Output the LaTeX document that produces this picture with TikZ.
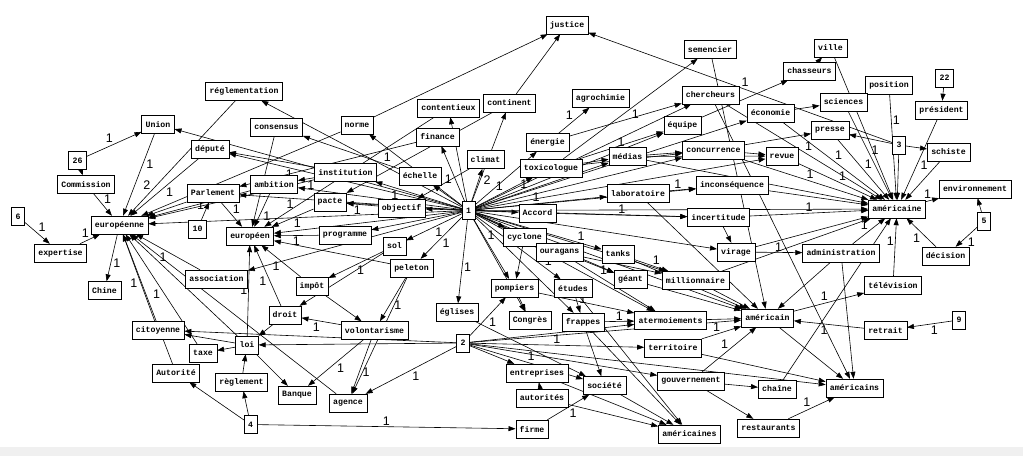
\documentclass[tikz,border=0pt]{standalone}
\usepackage{fontspec}
\setmonofont{Liberation Mono}
\newfontfamily\numfont{Liberation Sans}
\usetikzlibrary{arrows.meta,backgrounds}

\begin{document}
\begin{tikzpicture}[x=1pt,y=-1pt,
		every node/.style={draw,fill=white,font=\ttfamily\bfseries\fontsize{8.2}{9}\selectfont,
			inner xsep=4pt,inner ysep=0pt,minimum height=18pt},
		link/.style={-{Triangle[length=7pt,width=5pt]},line width=0.6pt},
		lbl/.style={draw=none,fill=none,font=\numfont\fontsize{12.5}{13}\selectfont,
			inner sep=1pt,minimum height=0pt,auto}]

		\useasboundingbox (0,0) rectangle (1023,456);

		% terms, top to bottom
		\node (justice) at (567,25) {justice};
		\node (semencier) at (710,49.5) {semencier};
		\node (ville) at (830.5,48) {ville};
		\node (chasseurs) at (809.5,71) {chasseurs};
		\node (position) at (889,85) {position};
		\node (n22) at (944.5,78) {22};
		\node (president) at (941.5,110) {président};
		\node (sciences) at (843.5,102) {sciences};
		\node (reglementation) at (244,91.5) {réglementation};
		\node (agrochimie) at (600.5,98.5) {agrochimie};
		\node (chercheurs) at (710.5,95) {chercheurs};
		\node (economie) at (770.5,113) {économie};
		\node (presse) at (830,130.5) {presse};
		\node (n3) at (899,145) {3};
		\node (schiste) at (948.5,152) {schiste};
		\node (union) at (158,124.5) {Union};
		\node (contentieux) at (448.5,108) {contentieux};
		\node (continent) at (509.5,103) {continent};
		\node (norme) at (357,125) {norme};
		\node (consensus) at (276.5,127) {consensus};
		\node (finance) at (437.5,137) {finance};
		\node (energie) at (547.5,142.5) {énergie};
		\node (equipe) at (682.5,125.5) {équipe};
		\node (depute) at (210,149) {député};
		\node (climat) at (485.5,159.5) {climat};
		\node (medias) at (627.5,156.5) {médias};
		\node (concurrence) at (713.5,150) {concurrence};
		\node (revue) at (782,156) {revue};
		\node (institution) at (345.5,172.5) {institution};
		\node (toxicologue) at (551,168) {toxicologue};
		\node (n26) at (77.5,160.5) {26};
		\node (commission) at (86,184.5) {Commission};
		\node (ambition) at (274,184.5) {ambition};
		\node (echelle) at (420,176) {échelle};
		\node (parlement) at (213,193) {Parlement};
		\node (inconsequence) at (732,185.5) {inconséquence};
		\node (laboratoire) at (638,193.5) {laboratoire};
		\node (environnement) at (975,189) {environnement};
		\node (pacte) at (330,202) {pacte};
		\node (objectif) at (401.5,208) {objectif};
		\node (n1) at (468.5,210.5) {1};
		\node (accord) at (537.5,213) {Accord};
		\node (incertitude) at (718.5,217.5) {incertitude};
		\node (americaine) at (897,209) {américaine};
		\node (n6) at (18,216.5) {6};
		\node (europeenne) at (119.5,225) {européenne};
		\node (n10) at (197.5,229) {10};
		\node (europeen) at (250,236) {européen};
		\node (programme) at (345,235) {programme};
		\node (n5) at (984,221) {5};
		\node (cyclone) at (524.5,237) {cyclone};
		\node (sol) at (394.5,246) {sol};
		\node (ouragans) at (559.5,252) {ouragans};
		\node (tanks) at (618,254) {tanks};
		\node (virage) at (736,252) {virage};
		\node (decision) at (945.5,256) {décision};
		\node (administration) at (841,253) {administration};
		\node (expertise) at (60.5,253) {expertise};
		\node (peleton) at (411.5,268) {peleton};
		\node (geant) at (630.5,279.5) {géant};
		\node (millionnaire) at (695.5,280.5) {millionnaire};
		\node (association) at (216.5,279) {association};
		\node (impot) at (312,286) {impôt};
		\node (pompiers) at (514.5,288) {pompiers};
		\node (etudes) at (573,288.5) {études};
		\node (television) at (893,285.5) {télévision};
		\node (chine) at (104.5,290.5) {Chine};
		\node (droit) at (285,315) {droit};
		\node (eglises) at (457,312.5) {églises};
		\node (congres) at (530,320.5) {Congrès};
		\node (frappes) at (583,322) {frappes};
		\node (atermoiements) at (670.5,320.5) {atermoiements};
		\node (americain) at (767.5,318) {américain};
		\node (volontarisme) at (374.5,330.5) {volontarisme};
		\node (citoyenne) at (158,330) {citoyenne};
		\node (retrait) at (885.5,330.5) {retrait};
		\node (n9) at (959,320) {9};
		\node (n2) at (463,343) {2};
		\node (loi) at (247,345) {loi};
		\node (territoire) at (673,348) {territoire};
		\node (taxe) at (203,353) {taxe};
		\node (autorite) at (176,373) {Autorité};
		\node (reglement) at (241.5,382) {règlement};
		\node (entreprises) at (537,373) {entreprises};
		\node (gouvernement) at (691,381) {gouvernement};
		\node (chaine) at (777,389) {chaîne};
		\node (americains) at (854.5,388) {américains};
		\node (societe) at (604.5,385.5) {société};
		\node (banque) at (297,395) {Banque};
		\node (autorites) at (542,398) {autorités};
		\node (agence) at (348,403) {agence};
		\node (n4) at (250.5,424.5) {4};
		\node (firme) at (532,429) {firme};
		\node (restaurants) at (768.5,428) {restaurants};
		\node (americaines) at (689.5,434) {américaines};

		\begin{pgfonlayer}{background}
			\fill[black!6] (0,447) rectangle (1023,456);

			% weighted links
			\foreach \a/\b in {n26/union, commission/europeenne, n6/expertise,
				expertise/europeenne, europeenne/chine, parlement/europeen, n10/parlement,
				depute/europeenne, association/europeenne, taxe/europeenne, citoyenne/europeenne,
				loi/europeen, droit/europeen, volontarisme/droit, volontarisme/banque,
				peleton/volontarisme, impot/europeen, sol/impot, programme/europeen, pacte/europeen,
				ambition/europeen, institution/ambition, objectif/pacte, n1/finance,
				n1/sol, n1/peleton, n1/eglises, n1/toxicologue, n1/laboratoire,
				energie/agrochimie, concurrence/americaine, revue/americaine,
				laboratoire/inconsequence, accord/incertitude, incertitude/americaine,
				virage/administration, administration/americaine, americain/television,
				television/americaine, sciences/americaine, president/americaine, n4/firme,
				n2/agence, n2/territoire, volontarisme/agence, retrait/americain, n9/retrait,
				restaurants/americains, frappes/atermoiements, tanks/millionnaire, etudes/frappes,
				gouvernement/americain, territoire/americain, economie/americaine,
				presse/americaine, chercheurs/americaine, n5/decision, decision/americaine,
				americaine/environnement, n2/societe}
				\draw[link] (\a) -- node[lbl]{1} (\b);
			\foreach \a/\b/\p in {position/americaine/0.3, n1/norme/0.75, n1/equipe/0.8,
				n1/institution/0.72, n1/depute/0.72, n1/parlement/0.75, n1/medias/0.4,
				n1/tanks/0.8, n1/pompiers/0.35, n1/etudes/0.8, ouragans/atermoiements/0.3,
				union/europeenne/0.3}
				\draw[link] (\a) -- node[lbl,pos=\p]{1} (\b);
			\foreach \a/\b in {n2/pompiers, n3/justice, toxicologue/semencier, firme/societe}
				\draw[link] (\a) -- node[lbl,swap]{1} (\b);

			% plain links
			\foreach \a/\b in {n26/commission, parlement/europeenne, ambition/europeenne,
				institution/europeenne, contentieux/europeen, finance/parlement, norme/europeenne,
				continent/pacte, climat/objectif, norme/justice, continent/justice,
				institution/depute, echelle/consensus, consensus/europeen, peleton/europeen,
				loi/banque, autorite/europeenne, droit/loi, reglement/loi, loi/europeenne,
				loi/citoyenne, loi/taxe, n4/autorite, n4/reglement, impot/volontarisme, sol/droit,
				agence/europeenne, peleton/agence, n1/objectif, n1/climat, n1/contentieux,
				n1/reglementation, n1/union, n1/pacte, n1/programme, n1/energie, n1/concurrence,
				n1/incertitude, n1/geant, n1/americain, n1/chercheurs, n1/economie, n1/americaine,
				n1/ouragans, n1/millionnaire, n1/virage, n1/congres, n1/frappes, n1/atermoiements,
				n1/europeen, n1/europeenne, n1/ambition, n1/association, n1/inconsequence,
				n1/revue, n1/echelle, n1/accord, n1/cyclone, medias/revue, n3/presse,
				energie/chercheurs, toxicologue/equipe, toxicologue/medias,
				toxicologue/concurrence, medias/concurrence, medias/americaine, concurrence/revue,
				concurrence/presse, laboratoire/americain, inconsequence/americaine,
				incertitude/virage, administration/americain, administration/americains,
				ville/americaine, chasseurs/ville, equipe/chasseurs, economie/sciences,
				n22/president, n3/schiste, n3/americaine, schiste/americaine, n5/environnement,
				americain/americains, gouvernement/chaine, gouvernement/restaurants,
				chaine/americaine, semencier/americain, chercheurs/americains, cyclone/geant,
				cyclone/pompiers, ouragans/millionnaire, tanks/americain, geant/americain,
				millionnaire/americain, millionnaire/americaine, virage/americaine,
				etudes/americaines, atermoiements/americain, frappes/americaines, frappes/societe,
				pompiers/congres, pompiers/atermoiements, territoire/americains,
				societe/americaines, autorites/americaines, entreprises/americaines,
				autorites/entreprises, eglises/societe, n2/citoyenne, n2/loi, n2/gouvernement,
				n2/entreprises, n2/americains, n2/americain, n2/atermoiements}
				\draw[link] (\a) -- (\b);

			\draw[link] (n1) -- node[lbl,swap,pos=0.3]{2} (continent);
			\draw[link] (reglementation) -- node[lbl,swap,pos=0.78]{2} (europeenne);
		\end{pgfonlayer}

\end{tikzpicture}
\end{document}
